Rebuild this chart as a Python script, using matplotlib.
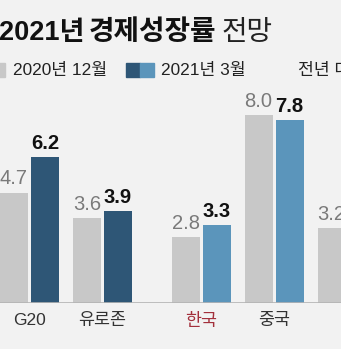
import numpy as np
import matplotlib.pyplot as plt
from matplotlib.patches import Rectangle

# data
regions = ['G20', '유로존', '한국', '중국', '미국']
dec2020 = [4.7, 3.6, 2.8, 8.0, 3.2]
mar2021 = [6.2, 3.9, 3.3, 7.8, 6.5]
xpos = [0, 1, 2.35, 3.35, 4.35]

bg = '#f2f2f2'
grey = '#c8c8c8'
dark_blue = '#2e5676'
light_blue = '#5b95bb'
blue_cols = [dark_blue, dark_blue, light_blue, light_blue, light_blue]
fam = ['Liberation Sans', 'Noto Sans CJK KR']

W, H = 341, 349
fig = plt.figure(figsize=(W / 100, H / 100), dpi=100)
fig.patch.set_facecolor(bg)

base_px = 303
unit_px = 23.5
ytop = 8.5
ax = fig.add_axes([0, (H - base_px) / H, 1, ytop * unit_px / H])
ax.set_facecolor(bg)
grp_px = 73
ax.set_xlim(-29.5 / grp_px, (W - 29.5) / grp_px)
ax.set_ylim(0, ytop)
ax.axis('off')

bw = 28 / grp_px
off = 15.5 / grp_px
x = np.array(xpos)
ax.bar(x - off, dec2020, bw, color=grey, zorder=2)
ax.bar(x + off, mar2021, bw, color=blue_cols, zorder=2)
ax.axhline(0, color='#b4b4b4', lw=1.2, zorder=3)

for xi, a, b in zip(x, dec2020, mar2021):
    ax.annotate(f'{a:.1f}', (xi - off, a), xytext=(0, 3), textcoords='offset points',
                ha='center', va='bottom', fontsize=14.5, color='#7a7a7a', family=fam)
    ax.annotate(f'{b:.1f}', (xi + off, b), xytext=(0, 3), textcoords='offset points',
                ha='center', va='bottom', fontsize=14.5, color='#111111',
                family=fam, fontweight='bold')

for xi, name in zip(x, regions):
    c = '#a3303c' if name == '한국' else '#333333'
    ax.annotate(name, (xi, 0), xytext=(0, -7), textcoords='offset points',
                ha='center', va='top', fontsize=12.5, color=c, family=fam)

# title
ty = 1 - 40 / H
fig.text(-1 / W, ty, '2021년', fontsize=19.5, fontweight='bold',
         family=fam, va='baseline', ha='left', color='#111111')
fig.text(89 / W, ty, '경제성장률', fontsize=20, fontweight='bold',
         family=fam, va='baseline', ha='left', color='#111111')
fig.text(222 / W, ty, '전망', fontsize=20, family=fam,
         va='baseline', ha='left', color='#222222')

# legend
ly = 1 - 70 / H
fig.patches.append(Rectangle((-9 / W, ly - 7 / H), 14 / W, 14 / H, color=grey,
                             transform=fig.transFigure, figure=fig))
fig.text(13 / W, ly, '2020년 12월', fontsize=12.4, family=fam, va='center', color='#222222')
fig.patches.append(Rectangle((126 / W, ly - 7 / H), 14 / W, 14 / H, color=dark_blue,
                             transform=fig.transFigure, figure=fig))
fig.patches.append(Rectangle((140 / W, ly - 7 / H), 14 / W, 14 / H, color=light_blue,
                             transform=fig.transFigure, figure=fig))
fig.text(161 / W, ly, '2021년 3월', fontsize=12.4, family=fam, va='center', color='#222222')
fig.text(298 / W, ly, '전년 대비, %', fontsize=12.4, family=fam, va='center', color='#222222')

fig.savefig('out.png', dpi=100, facecolor=bg)
